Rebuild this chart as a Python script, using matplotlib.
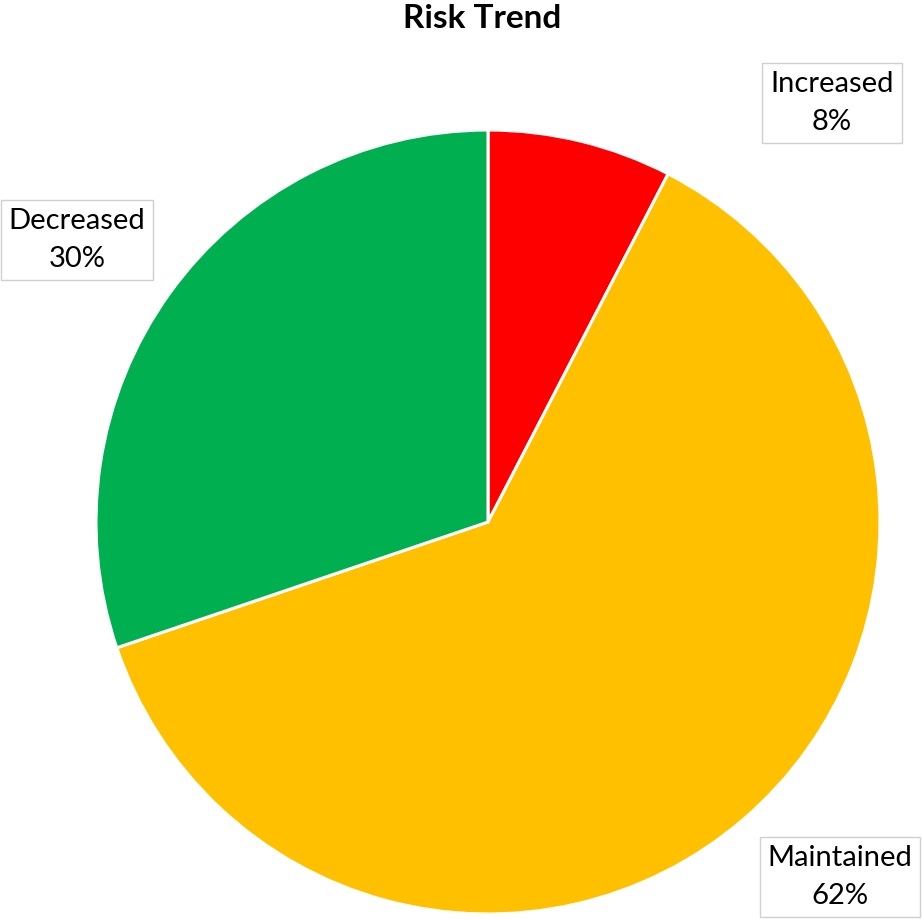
import matplotlib
matplotlib.use("Agg")
import matplotlib.pyplot as plt

# ── Data ──────────────────────────────────────────────────────────────────────
labels = ["Increased", "Maintained", "Decreased"]
shares = [7.6, 62.2, 30.2]
colors = ["#FF0000", "#FFC000", "#00B050"]

W, H = 922, 919
fig = plt.figure(figsize=(W / 100, H / 100), dpi=100)
ax = fig.add_axes([0, 0, 1, 1])

ax.pie(shares, colors=colors, startangle=90, counterclock=False,
       center=(488, H - 522), radius=392, frame=True,
       wedgeprops=dict(edgecolor="white", linewidth=2.2))
ax.set_xlim(0, W)
ax.set_ylim(0, H)
ax.set_aspect("equal")
ax.axis("off")

# label boxes (pixel positions of box centres, y from top)
box_pos = {"Increased": (832, 103), "Maintained": (840, 877), "Decreased": (77, 240)}
for lab, val in zip(labels, shares):
    x, y = box_pos[lab]
    ax.text(x, H - y, f"{lab}\n{round(val)}%", ha="center", va="center",
            fontsize=21, family="Lato", linespacing=1.55,
            bbox=dict(boxstyle="square,pad=0.27", fc="white", ec="#D0D0D0", lw=1))

fig.text(482 / W, 1 - 18 / H, "Risk Trend", ha="center", va="center",
         fontsize=24, fontweight="bold", family="Lato")

fig.savefig("out.png", dpi=100)
